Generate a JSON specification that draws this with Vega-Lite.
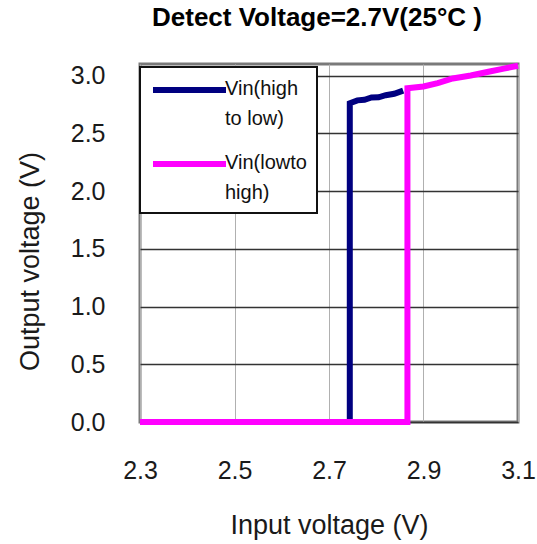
{
  "$schema": "https://vega.github.io/schema/vega-lite/v6.json",
  "autosize": "none",
  "width": 378,
  "height": 358,
  "padding": {"left": 140, "top": 64, "right": 19, "bottom": 122},
  "background": "white",
  "title": {
    "text": "Detect Voltage=2.7V(25°C )",
    "font": "Liberation Sans",
    "fontSize": 26,
    "fontWeight": "bold",
    "color": "#000000",
    "anchor": "middle",
    "frame": "group",
    "offset": 23,
    "dx": -12
  },
  "data": {
    "values": [
      {"series": "Vin(high to low)", "i": 0, "vin": 2.3, "vout": 0},
      {"series": "Vin(high to low)", "i": 1, "vin": 2.744, "vout": 0},
      {"series": "Vin(high to low)", "i": 2, "vin": 2.744, "vout": 2.76},
      {"series": "Vin(high to low)", "i": 3, "vin": 2.76, "vout": 2.785},
      {"series": "Vin(high to low)", "i": 4, "vin": 2.775, "vout": 2.79},
      {"series": "Vin(high to low)", "i": 5, "vin": 2.79, "vout": 2.81},
      {"series": "Vin(high to low)", "i": 6, "vin": 2.805, "vout": 2.812},
      {"series": "Vin(high to low)", "i": 7, "vin": 2.82, "vout": 2.83},
      {"series": "Vin(high to low)", "i": 8, "vin": 2.838, "vout": 2.842},
      {"series": "Vin(high to low)", "i": 9, "vin": 2.857, "vout": 2.87},
      {"series": "Vin(lowto high)", "i": 0, "vin": 2.3, "vout": 0},
      {"series": "Vin(lowto high)", "i": 1, "vin": 2.866, "vout": 0},
      {"series": "Vin(lowto high)", "i": 2, "vin": 2.866, "vout": 2.89},
      {"series": "Vin(lowto high)", "i": 3, "vin": 2.9, "vout": 2.905},
      {"series": "Vin(lowto high)", "i": 4, "vin": 2.93, "vout": 2.935},
      {"series": "Vin(lowto high)", "i": 5, "vin": 2.962, "vout": 2.975},
      {"series": "Vin(lowto high)", "i": 6, "vin": 3.0, "vout": 3.0},
      {"series": "Vin(lowto high)", "i": 7, "vin": 3.04, "vout": 3.035},
      {"series": "Vin(lowto high)", "i": 8, "vin": 3.07, "vout": 3.06},
      {"series": "Vin(lowto high)", "i": 9, "vin": 3.1, "vout": 3.085}
    ]
  },
  "mark": {"type": "line", "strokeWidth": 6, "strokeJoin": "miter", "strokeCap": "butt", "clip": false},
  "encoding": {
    "x": {
      "field": "vin",
      "type": "quantitative",
      "scale": {"domain": [2.3, 3.1], "nice": false, "zero": false},
      "axis": {
        "title": "Input voltage (V)",
        "values": [2.3, 2.5, 2.7, 2.9, 3.1],
        "format": ".1f",
        "labelFont": "Liberation Sans",
        "labelFontSize": 25,
        "labelColor": "#1a1a1a",
        "labelPadding": 36,
        "labelFlush": false,
        "labelOverlap": false,
        "ticks": false,
        "tickSize": 0,
        "domain": false,
        "grid": true,
        "gridColor": "#b0b0b0",
        "gridWidth": 1,
        "titleFont": "Liberation Sans",
        "titleFontSize": 27,
        "titleFontWeight": "normal",
        "titleColor": "#1a1a1a",
        "titleBaseline": "alphabetic",
        "titleY": 111
      }
    },
    "y": {
      "field": "vout",
      "type": "quantitative",
      "scale": {"domain": [0, 3.1], "nice": false},
      "axis": {
        "title": "Output voltage (V)",
        "values": [0, 0.5, 1, 1.5, 2, 2.5, 3],
        "format": ".1f",
        "labelFont": "Liberation Sans",
        "labelFontSize": 25,
        "labelColor": "#1a1a1a",
        "labelPadding": 35,
        "labelOverlap": false,
        "ticks": false,
        "tickSize": 0,
        "domain": false,
        "grid": true,
        "gridColor": "#333333",
        "gridWidth": 1.5,
        "titleFont": "Liberation Sans",
        "titleFontSize": 27,
        "titleFontWeight": "normal",
        "titleColor": "#1a1a1a",
        "titleAngle": -90,
        "titleAlign": "center",
        "titleBaseline": "alphabetic",
        "titleX": -102,
        "titleY": 197
      }
    },
    "color": {
      "field": "series",
      "type": "nominal",
      "scale": {"domain": ["Vin(high to low)", "Vin(lowto high)"], "range": ["#000080", "#ff00ff"]},
      "legend": {
        "title": null,
        "orient": "none",
        "legendX": 0,
        "legendY": 3,
        "fillColor": "white",
        "strokeColor": "#111111",
        "padding": 10,
        "symbolType": "stroke",
        "symbolSize": 5329,
        "symbolStrokeWidth": 6,
        "labelFont": "Liberation Sans",
        "labelFontSize": 20,
        "labelColor": "#111111",
        "labelOffset": -4,
        "labelLimit": 200,
        "labelBaseline": "top",
        "rowPadding": 22,
        "labelExpr": "datum.label == 'Vin(high to low)' ? ['Vin(high', 'to low)'] : ['Vin(lowto', 'high)']",
        "encode": {
          "legend": {"update": {"strokeWidth": {"value": 2}}},
          "symbols": {"update": {"y": {"value": 13}}},
          "labels": {"update": {"y": {"value": 2}, "lineHeight": {"value": 30}}}
        }
      }
    },
    "order": {"field": "i", "type": "quantitative"}
  },
  "config": {
    "view": {"stroke": "#7a7a7a", "strokeWidth": 3}
  }
}
